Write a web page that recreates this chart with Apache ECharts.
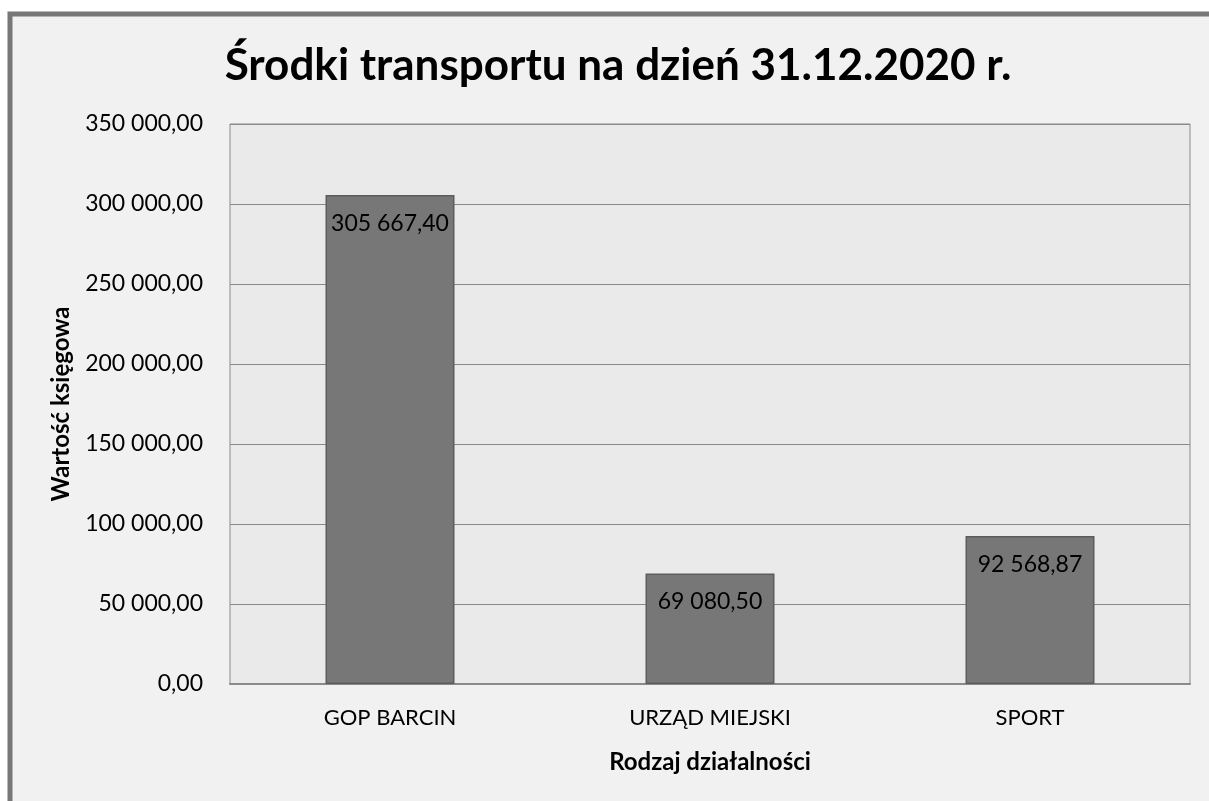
<!DOCTYPE html>
<html>
<head>
<meta charset="utf-8">
<script src="https://cdn.jsdelivr.net/npm/echarts@6/dist/echarts.min.js"></script>
<style>
    html, body { margin: 0; padding: 0; background: #ffffff; }
    #main { width: 1209px; height: 801px; }
</style>
</head>
<body>
<div id="main"></div>
<script>
var categories = ['GOP BARCIN', 'URZĄD MIEJSKI', 'SPORT'];
var values = [305667.40, 69080.50, 92568.87];

function fmt(v) {
    var parts = v.toFixed(2).split('.');
    var intPart = parts[0].replace(/\B(?=(\d{3})+(?!\d))/g, ' ');
    return intPart + ',' + parts[1];
}

var myChart = echarts.init(document.getElementById('main'));
var font = 'Lato, "Open Sans", sans-serif';
var option = {
    backgroundColor: '#ffffff',
    animation: false,
    graphic: [{
        type: 'rect',
        z: -10,
        shape: { x: 10, y: 14, width: 1260, height: 830 },
        style: { fill: '#f1f1f1', stroke: '#777777', lineWidth: 5 }
    }],
    title: {
        text: 'Środki transportu na dzień 31.12.2020 r.',
        left: 613,
        top: 39,
        textAlign: 'center',
        textStyle: { fontFamily: font, fontSize: 44, fontWeight: 'bold', color: '#000' }
    },
    grid: {
        left: 230,
        right: 19,
        top: 124,
        bottom: 117,
        show: true,
        backgroundColor: '#eaeaea',
        borderColor: '#8a8a8a',
        borderWidth: 1
    },
    xAxis: {
        type: 'category',
        data: categories,
        name: 'Rodzaj działalności',
        nameLocation: 'middle',
        nameGap: 66,
        nameTextStyle: { fontFamily: font, fontSize: 24, fontWeight: 'bold', color: '#000' },
        axisLine: { lineStyle: { color: '#8a8a8a', width: 2 } },
        axisTick: { show: false },
        axisLabel: { fontFamily: font, fontSize: 22, color: '#000', margin: 23 }
    },
    yAxis: {
        type: 'value',
        min: 0,
        max: 350000,
        interval: 50000,
        name: 'Wartość księgowa',
        nameLocation: 'middle',
        nameGap: 157,
        nameTextStyle: { fontFamily: font, fontSize: 24, fontWeight: 'bold', color: '#000' },
        axisLine: { show: false },
        axisTick: { show: false },
        splitLine: { lineStyle: { color: '#8a8a8a', width: 1 } },
        axisLabel: {
            fontFamily: font, fontSize: 23, color: '#000', margin: 27,
            formatter: function (v) { return fmt(v); }
        }
    },
    series: [{
        type: 'bar',
        data: values,
        barWidth: 129,
        itemStyle: { color: '#777777', borderColor: '#5c5c5c', borderWidth: 1.5 },
        label: {
            show: true,
            position: 'insideTop',
            distance: 17,
            fontFamily: font,
            fontSize: 23,
            color: '#000',
            formatter: function (p) { return fmt(p.value); }
        }
    }]
};
myChart.setOption(option);
</script>
</body>
</html>
